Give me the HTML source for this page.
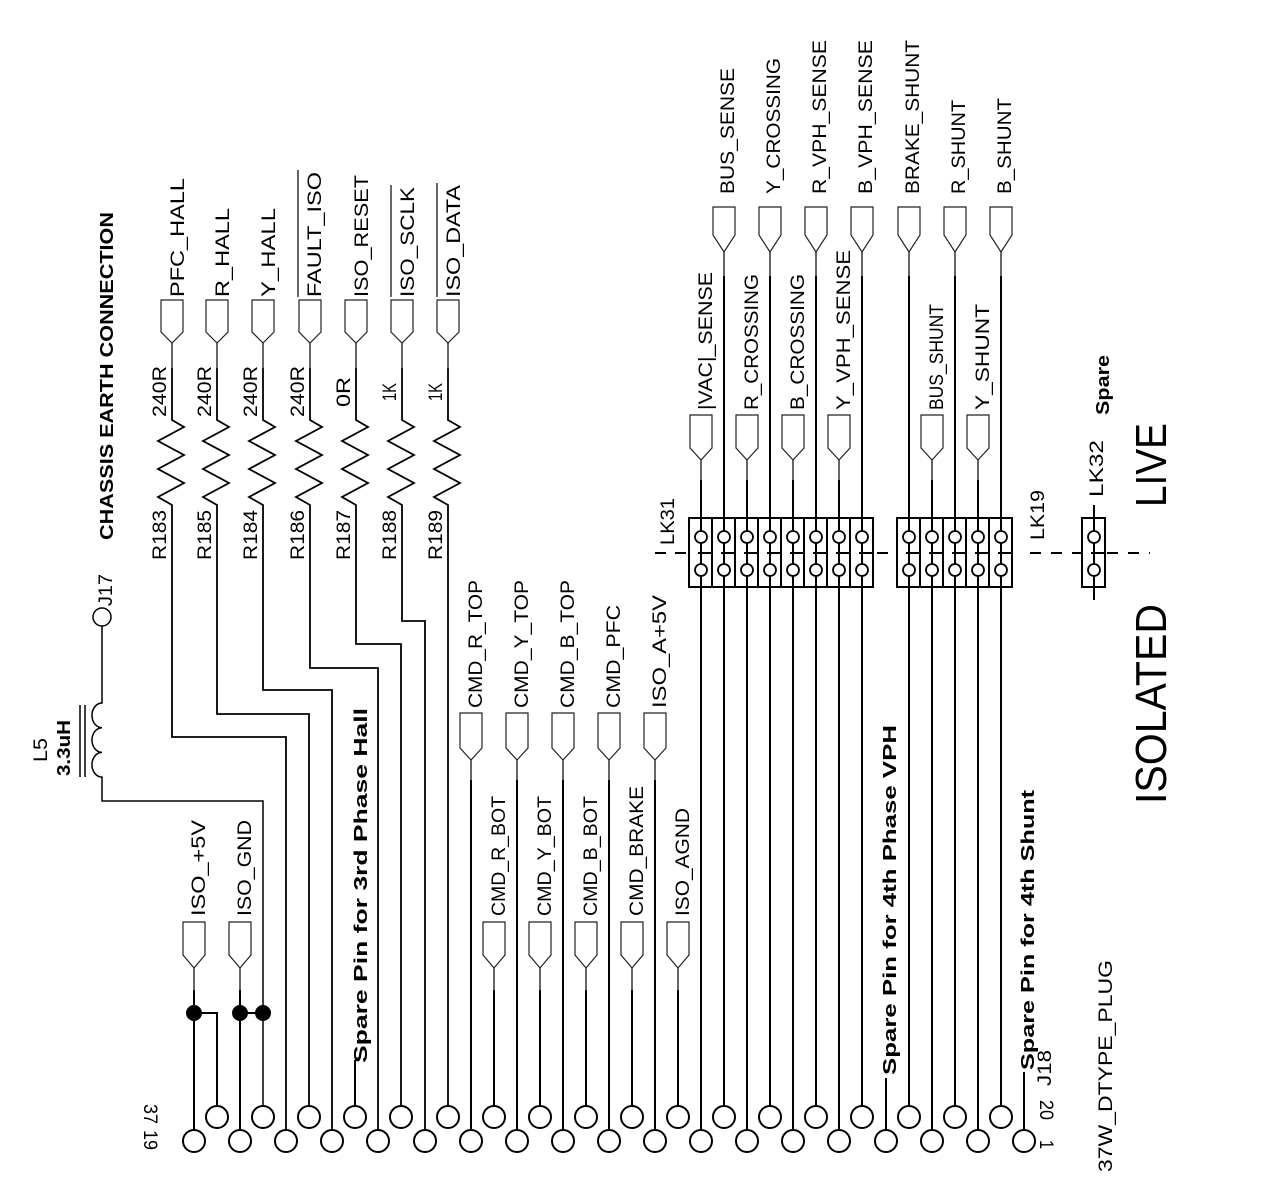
<!DOCTYPE html>
<html><head><meta charset="utf-8"><style>
html,body{margin:0;padding:0;background:#fff;}
svg{display:block;}
text{font-family:"Liberation Sans",sans-serif;font-size:19px;fill:#000;}
.b{font-weight:bold;font-size:18px;}
.w{stroke:#000;stroke-width:2;fill:none;}
.t{stroke:#000;stroke-width:1.2;fill:none;}
.p{stroke:#222;stroke-width:1.2;fill:#fff;}
.c{stroke:#000;stroke-width:2;fill:#fff;}
</style></head><body>
<svg width="1274" height="1192" viewBox="0 0 1274 1192" xmlns="http://www.w3.org/2000/svg">
<g class="c">
<circle cx="194" cy="1141" r="11"/><circle cx="240" cy="1141" r="11"/><circle cx="286" cy="1141" r="11"/><circle cx="332" cy="1141" r="11"/><circle cx="378" cy="1141" r="11"/><circle cx="425" cy="1141" r="11"/><circle cx="471" cy="1141" r="11"/><circle cx="517" cy="1141" r="11"/><circle cx="563" cy="1141" r="11"/><circle cx="609" cy="1141" r="11"/><circle cx="655" cy="1141" r="11"/><circle cx="701" cy="1141" r="11"/><circle cx="747" cy="1141" r="11"/><circle cx="793" cy="1141" r="11"/><circle cx="839" cy="1141" r="11"/><circle cx="886" cy="1141" r="11"/><circle cx="932" cy="1141" r="11"/><circle cx="978" cy="1141" r="11"/><circle cx="1024" cy="1141" r="11"/>
<circle cx="217" cy="1117" r="11"/><circle cx="263" cy="1117" r="11"/><circle cx="309" cy="1117" r="11"/><circle cx="355" cy="1117" r="11"/><circle cx="401" cy="1117" r="11"/><circle cx="448" cy="1117" r="11"/><circle cx="494" cy="1117" r="11"/><circle cx="540" cy="1117" r="11"/><circle cx="586" cy="1117" r="11"/><circle cx="632" cy="1117" r="11"/><circle cx="678" cy="1117" r="11"/><circle cx="724" cy="1117" r="11"/><circle cx="770" cy="1117" r="11"/><circle cx="816" cy="1117" r="11"/><circle cx="862" cy="1117" r="11"/><circle cx="909" cy="1117" r="11"/><circle cx="955" cy="1117" r="11"/><circle cx="1001" cy="1117" r="11"/>
</g>

<circle cx="102" cy="617" r="9" class="t" style="stroke-width:1.5"/>
<path class="t" style="stroke-width:1.5" d="M102 626 V703 a10 12.3 0 0 0 0 24.7 a10 12.3 0 0 0 0 24.7 a10 12.3 0 0 0 0 24.7 V801 H263 V1106"/>
<path class="t" style="stroke-width:1.5" d="M80 705 V777 M85 705 V777"/>

<path class="w" d="M194 990 V1130 M194 1013 H217 V1106 M240 990 V1130 M240 1013 H263"/>
<path class="t" d="M194 968 V990 M240 968 V990"/>
<circle cx="194" cy="1013" r="8"/><circle cx="240" cy="1013" r="8"/><circle cx="263" cy="1013" r="8"/>

<g class="p">
<polygon points="183,922 205,922 205,955 194,968 183,955"/>
<polygon points="229,922 251,922 251,955 240,968 229,955"/>
<polygon points="483,922 505,922 505,955 494,968 483,955"/>
<polygon points="529,922 551,922 551,955 540,968 529,955"/>
<polygon points="575,922 597,922 597,955 586,968 575,955"/>
<polygon points="621,922 643,922 643,955 632,968 621,955"/>
<polygon points="667,922 689,922 689,955 678,968 667,955"/>
<polygon points="460,713 482,713 482,748 471,760 460,748"/>
<polygon points="506,713 528,713 528,748 517,760 506,748"/>
<polygon points="552,713 574,713 574,748 563,760 552,748"/>
<polygon points="598,713 620,713 620,748 609,760 598,748"/>
<polygon points="644,713 666,713 666,748 655,760 644,748"/>
<polygon points="161,300 183,300 183,332 172,343 161,332"/>
<polygon points="206,300 228,300 228,332 217,343 206,332"/>
<polygon points="252,300 274,300 274,332 263,343 252,332"/>
<polygon points="299,300 321,300 321,332 310,343 299,332"/>
<polygon points="345,300 367,300 367,332 356,343 345,332"/>
<polygon points="391,300 413,300 413,332 402,343 391,332"/>
<polygon points="437,300 459,300 459,332 448,343 437,332"/>
<polygon points="713,207 735,207 735,235 724,252 713,235"/>
<polygon points="759,207 781,207 781,235 770,252 759,235"/>
<polygon points="805,207 827,207 827,235 816,252 805,235"/>
<polygon points="851,207 873,207 873,235 862,252 851,235"/>
<polygon points="898,207 920,207 920,235 909,252 898,235"/>
<polygon points="944,207 966,207 966,235 955,252 944,235"/>
<polygon points="990,207 1012,207 1012,235 1001,252 990,235"/>
<polygon points="690,415 712,415 712,448 701,460 690,448"/>
<polygon points="736,415 758,415 758,448 747,460 736,448"/>
<polygon points="782,415 804,415 804,448 793,460 782,448"/>
<polygon points="828,415 850,415 850,448 839,460 828,448"/>
<polygon points="921,415 943,415 943,448 932,460 921,448"/>
<polygon points="967,415 989,415 989,448 978,460 967,448"/>
</g>

<path class="t" d="M494 968 V990 M540 968 V990 M586 968 V990 M632 968 V990 M678 968 V990 M471 760 V780 M517 760 V780 M563 760 V780 M609 760 V780 M655 760 V780"/>
<path class="w" d="M494 990 V1106 M540 990 V1106 M586 990 V1106 M632 990 V1106 M678 990 V1106 M471 780 V1130 M517 780 V1130 M563 780 V1130 M609 780 V1130 M655 780 V1130"/>

<path class="t" d="M172 343 V368 M217 343 V368 M263 343 V368 M310 343 V368 M356 343 V368 M402 343 V368 M448 343 V368"/>
<g class="w" style="stroke-width:1.8">
<path d="M172 368 V420 L184 427 L158 441 L184 455 L158 469 L184 483 L158 497 L172 505 V737 H286 V1130"/>
<path d="M217 368 V420 L229 427 L203 441 L229 455 L203 469 L229 483 L203 497 L217 505 V714 H309 V1106"/>
<path d="M263 368 V420 L275 427 L249 441 L275 455 L249 469 L275 483 L249 497 L263 505 V690 H332 V1130"/>
<path d="M310 368 V420 L322 427 L296 441 L322 455 L296 469 L322 483 L296 497 L310 505 V668 H378 V1130"/>
<path d="M356 368 V420 L368 427 L342 441 L368 455 L342 469 L368 483 L342 497 L356 505 V644 H401 V1106"/>
<path d="M402 368 V420 L414 427 L388 441 L414 455 L388 469 L414 483 L388 497 L402 505 V621 H425 V1130"/>
<path d="M448 368 V420 L460 427 L434 441 L460 455 L434 469 L460 483 L434 497 L448 505 V1106"/>
</g>
<path class="w" d="M355 1060 V1106 M886 1078 V1130 M1024 1072 V1130"/>

<path class="t" d="M724 252 V276 M770 252 V276 M816 252 V276 M862 252 V276 M909 252 V276 M955 252 V276 M1001 252 V276 M701 460 V480 M747 460 V480 M793 460 V480 M839 460 V480 M932 460 V480 M978 460 V480"/>
<path class="w" d="M724 276 V518 M770 276 V518 M816 276 V518 M862 276 V518 M909 276 V518 M955 276 V518 M1001 276 V518 M701 480 V518 M747 480 V518 M793 480 V518 M839 480 V518 M932 480 V518 M978 480 V518"/>
<path class="w" d="M701 587 V1130 M724 587 V1106 M747 587 V1130 M770 587 V1106 M793 587 V1130 M816 587 V1106 M839 587 V1130 M862 587 V1106 M909 587 V1106 M932 587 V1130 M955 587 V1106 M978 587 V1130 M1001 587 V1106"/>
<g class="w">
<rect x="689" y="518" width="184" height="69" fill="#fff"/>
<path d="M712 518V587 M735 518V587 M758 518V587 M781 518V587 M804 518V587 M827 518V587 M850 518V587"/>
<rect x="897" y="518" width="115" height="69" fill="#fff"/>
<path d="M920 518V587 M943 518V587 M966 518V587 M989 518V587"/>
<rect x="1082" y="518" width="23" height="69" fill="#fff"/>
<path d="M1094 505 V518 M1094 587 V600"/>
<path d="M701 518V531 M701 543V564 M701 576V587 M724 518V531 M724 543V564 M724 576V587 M747 518V531 M747 543V564 M747 576V587 M770 518V531 M770 543V564 M770 576V587 M793 518V531 M793 543V564 M793 576V587 M816 518V531 M816 543V564 M816 576V587 M839 518V531 M839 543V564 M839 576V587 M862 518V531 M862 543V564 M862 576V587 M909 518V531 M909 543V564 M909 576V587 M932 518V531 M932 543V564 M932 576V587 M955 518V531 M955 543V564 M955 576V587 M978 518V531 M978 543V564 M978 576V587 M1001 518V531 M1001 543V564 M1001 576V587 M1094 518V531 M1094 543V564 M1094 576V587"/>
<path d="M698 553H712 M721 553H735 M744 553H758 M767 553H781 M790 553H804 M813 553H827 M836 553H850 M859 553H873 M906 553H920 M929 553H943 M952 553H966 M975 553H989 M998 553H1012 M1091 553H1105"/>
</g>
<g class="c" style="stroke-width:1.8">
<circle cx="701" cy="537" r="6"/><circle cx="701" cy="570" r="6"/><circle cx="724" cy="537" r="6"/><circle cx="724" cy="570" r="6"/><circle cx="747" cy="537" r="6"/><circle cx="747" cy="570" r="6"/><circle cx="770" cy="537" r="6"/><circle cx="770" cy="570" r="6"/><circle cx="793" cy="537" r="6"/><circle cx="793" cy="570" r="6"/><circle cx="816" cy="537" r="6"/><circle cx="816" cy="570" r="6"/><circle cx="839" cy="537" r="6"/><circle cx="839" cy="570" r="6"/><circle cx="862" cy="537" r="6"/><circle cx="862" cy="570" r="6"/>
<circle cx="909" cy="537" r="6"/><circle cx="909" cy="570" r="6"/><circle cx="932" cy="537" r="6"/><circle cx="932" cy="570" r="6"/><circle cx="955" cy="537" r="6"/><circle cx="955" cy="570" r="6"/><circle cx="978" cy="537" r="6"/><circle cx="978" cy="570" r="6"/><circle cx="1001" cy="537" r="6"/><circle cx="1001" cy="570" r="6"/>
<circle cx="1094" cy="537" r="6"/><circle cx="1094" cy="570" r="6"/>
</g>
<path class="w" stroke-dasharray="11,9" d="M655 553 H689 M877 553 H897"/>
<path class="w" stroke-dasharray="11,10" d="M1030 553 H1082 M1107 553 H1150"/>

<path class="t" d="M298 297 V170 M391 297 V185 M437 297 V183"/>

<g>
<text transform="translate(184,297) rotate(-90)" textLength="119" lengthAdjust="spacingAndGlyphs">PFC_HALL</text>
<text transform="translate(229,297) rotate(-90)" textLength="89" lengthAdjust="spacingAndGlyphs">R_HALL</text>
<text transform="translate(275,297) rotate(-90)" textLength="89" lengthAdjust="spacingAndGlyphs">Y_HALL</text>
<text transform="translate(321,297) rotate(-90)" textLength="125" lengthAdjust="spacingAndGlyphs">FAULT_ISO</text>
<text transform="translate(368,297) rotate(-90)" textLength="122" lengthAdjust="spacingAndGlyphs">ISO_RESET</text>
<text transform="translate(414,297) rotate(-90)" textLength="110" lengthAdjust="spacingAndGlyphs">ISO_SCLK</text>
<text transform="translate(460,297) rotate(-90)" textLength="112" lengthAdjust="spacingAndGlyphs">ISO_DATA</text>

<text transform="translate(166,417) rotate(-90)" textLength="51" lengthAdjust="spacingAndGlyphs">240R</text>
<text transform="translate(211,417) rotate(-90)" textLength="51" lengthAdjust="spacingAndGlyphs">240R</text>
<text transform="translate(257,417) rotate(-90)" textLength="51" lengthAdjust="spacingAndGlyphs">240R</text>
<text transform="translate(304,417) rotate(-90)" textLength="51" lengthAdjust="spacingAndGlyphs">240R</text>
<text transform="translate(350,407) rotate(-90)" textLength="30" lengthAdjust="spacingAndGlyphs">0R</text>
<text transform="translate(396,401) rotate(-90)" textLength="18" lengthAdjust="spacingAndGlyphs">1K</text>
<text transform="translate(442,401) rotate(-90)" textLength="18" lengthAdjust="spacingAndGlyphs">1K</text>

<text transform="translate(166,560) rotate(-90)" textLength="50" lengthAdjust="spacingAndGlyphs">R183</text>
<text transform="translate(211,560) rotate(-90)" textLength="50" lengthAdjust="spacingAndGlyphs">R185</text>
<text transform="translate(257,560) rotate(-90)" textLength="50" lengthAdjust="spacingAndGlyphs">R184</text>
<text transform="translate(304,560) rotate(-90)" textLength="50" lengthAdjust="spacingAndGlyphs">R186</text>
<text transform="translate(350,560) rotate(-90)" textLength="50" lengthAdjust="spacingAndGlyphs">R187</text>
<text transform="translate(396,560) rotate(-90)" textLength="50" lengthAdjust="spacingAndGlyphs">R188</text>
<text transform="translate(442,560) rotate(-90)" textLength="50" lengthAdjust="spacingAndGlyphs">R189</text>

<text transform="translate(482,708) rotate(-90)" textLength="128" lengthAdjust="spacingAndGlyphs">CMD_R_TOP</text>
<text transform="translate(528,708) rotate(-90)" textLength="128" lengthAdjust="spacingAndGlyphs">CMD_Y_TOP</text>
<text transform="translate(574,708) rotate(-90)" textLength="128" lengthAdjust="spacingAndGlyphs">CMD_B_TOP</text>
<text transform="translate(620,708) rotate(-90)" textLength="103" lengthAdjust="spacingAndGlyphs">CMD_PFC</text>
<text transform="translate(666,708) rotate(-90)" textLength="113" lengthAdjust="spacingAndGlyphs">ISO_A+5V</text>

<text transform="translate(205,916) rotate(-90)" textLength="96" lengthAdjust="spacingAndGlyphs">ISO_+5V</text>
<text transform="translate(251,916) rotate(-90)" textLength="96" lengthAdjust="spacingAndGlyphs">ISO_GND</text>
<text transform="translate(505,916) rotate(-90)" textLength="120" lengthAdjust="spacingAndGlyphs">CMD_R_BOT</text>
<text transform="translate(551,916) rotate(-90)" textLength="120" lengthAdjust="spacingAndGlyphs">CMD_Y_BOT</text>
<text transform="translate(597,916) rotate(-90)" textLength="120" lengthAdjust="spacingAndGlyphs">CMD_B_BOT</text>
<text transform="translate(643,916) rotate(-90)" textLength="130" lengthAdjust="spacingAndGlyphs">CMD_BRAKE</text>
<text transform="translate(689,916) rotate(-90)" textLength="108" lengthAdjust="spacingAndGlyphs">ISO_AGND</text>

<text transform="translate(734,194) rotate(-90)" textLength="126" lengthAdjust="spacingAndGlyphs">BUS_SENSE</text>
<text transform="translate(780,194) rotate(-90)" textLength="136" lengthAdjust="spacingAndGlyphs">Y_CROSSING</text>
<text transform="translate(826,194) rotate(-90)" textLength="154" lengthAdjust="spacingAndGlyphs">R_VPH_SENSE</text>
<text transform="translate(872,194) rotate(-90)" textLength="154" lengthAdjust="spacingAndGlyphs">B_VPH_SENSE</text>
<text transform="translate(919,194) rotate(-90)" textLength="154" lengthAdjust="spacingAndGlyphs">BRAKE_SHUNT</text>
<text transform="translate(965,194) rotate(-90)" textLength="94" lengthAdjust="spacingAndGlyphs">R_SHUNT</text>
<text transform="translate(1011,194) rotate(-90)" textLength="96" lengthAdjust="spacingAndGlyphs">B_SHUNT</text>

<text transform="translate(712,410) rotate(-90)" textLength="138" lengthAdjust="spacingAndGlyphs">|VAC|_SENSE</text>
<text transform="translate(758,410) rotate(-90)" textLength="136" lengthAdjust="spacingAndGlyphs">R_CROSSING</text>
<text transform="translate(804,410) rotate(-90)" textLength="136" lengthAdjust="spacingAndGlyphs">B_CROSSING</text>
<text transform="translate(850,410) rotate(-90)" textLength="160" lengthAdjust="spacingAndGlyphs">Y_VPH_SENSE</text>
<text transform="translate(943,410) rotate(-90)" textLength="106" lengthAdjust="spacingAndGlyphs">BUS_SHUNT</text>
<text transform="translate(989,410) rotate(-90)" textLength="106" lengthAdjust="spacingAndGlyphs">Y_SHUNT</text>

<text class="b" transform="translate(113,540) rotate(-90)" textLength="328" lengthAdjust="spacingAndGlyphs">CHASSIS  EARTH  CONNECTION</text>
<text transform="translate(112,606) rotate(-90)" textLength="32" lengthAdjust="spacingAndGlyphs">J17</text>
<text transform="translate(47,762) rotate(-90)" textLength="24" lengthAdjust="spacingAndGlyphs">L5</text>
<text class="b" transform="translate(70,776) rotate(-90)" textLength="56" lengthAdjust="spacingAndGlyphs">3.3uH</text>
<text class="b" transform="translate(367,1063) rotate(-90)" textLength="355" lengthAdjust="spacingAndGlyphs">Spare  Pin  for  3rd  Phase  Hall</text>
<text class="b" transform="translate(896,1075) rotate(-90)" textLength="350" lengthAdjust="spacingAndGlyphs">Spare  Pin  for  4th  Phase  VPH</text>
<text class="b" transform="translate(1034,1070) rotate(-90)" textLength="280" lengthAdjust="spacingAndGlyphs">Spare  Pin  for  4th  Shunt</text>
<text class="b" transform="translate(1109,415) rotate(-90)" textLength="60" lengthAdjust="spacingAndGlyphs">Spare</text>
<text transform="translate(674,545) rotate(-90)" textLength="47" lengthAdjust="spacingAndGlyphs">LK31</text>
<text transform="translate(1044,540) rotate(-90)" textLength="50" lengthAdjust="spacingAndGlyphs">LK19</text>
<text transform="translate(1103,497) rotate(-90)" textLength="57" lengthAdjust="spacingAndGlyphs">LK32</text>
<text transform="translate(1051,1086) rotate(-90)" textLength="36" lengthAdjust="spacingAndGlyphs">J18</text>
<text transform="translate(1112,1172) rotate(-90)" textLength="212" lengthAdjust="spacingAndGlyphs">37W_DTYPE_PLUG</text>
<text style="font-size:44px" transform="translate(1166,804) rotate(-90)" textLength="200" lengthAdjust="spacingAndGlyphs">ISOLATED</text>
<text style="font-size:44px" transform="translate(1166,507) rotate(-90)" textLength="84" lengthAdjust="spacingAndGlyphs">LIVE</text>

<text transform="translate(144,1104) rotate(90)" textLength="20" lengthAdjust="spacingAndGlyphs">37</text>
<text transform="translate(144,1130) rotate(90)" textLength="20" lengthAdjust="spacingAndGlyphs">19</text>
<text transform="translate(1040,1100) rotate(90)" textLength="20" lengthAdjust="spacingAndGlyphs">20</text>
<text transform="translate(1040,1140) rotate(90)" textLength="9" lengthAdjust="spacingAndGlyphs">1</text>
</g>
</svg>
</body></html>
